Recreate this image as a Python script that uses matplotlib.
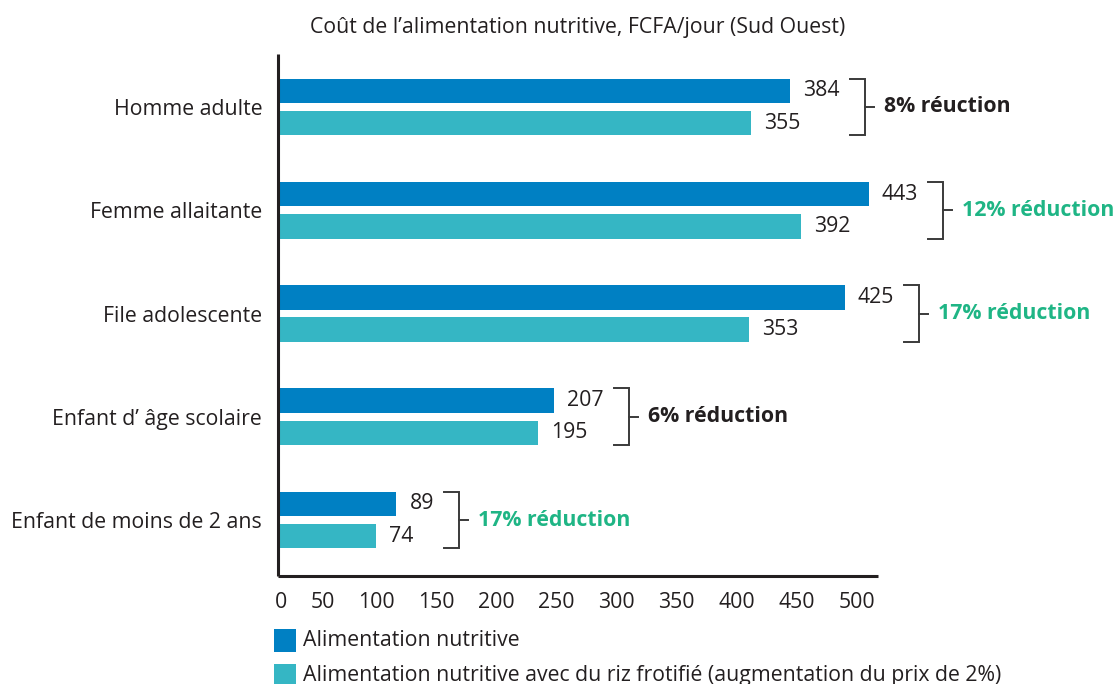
import matplotlib
matplotlib.use("Agg")
import matplotlib.pyplot as plt
import numpy as np
from matplotlib.patches import Rectangle

# ---- data -------------------------------------------------------------
categories = [
    "Homme adulte",
    "Femme allaitante",
    "File adolescente",
    "Enfant d\u2019 \u00e2ge scolaire",
    "Enfant de moins de 2 ans",
]
cost_standard = [384, 443, 425, 207, 89]
cost_fortified = [355, 392, 353, 195, 74]
reduction_labels = [
    "8% r\u00e9uction",
    "12% r\u00e9duction",
    "17% r\u00e9duction",
    "6% r\u00e9duction",
    "17% r\u00e9duction",
]
reduction_highlight = [False, True, True, False, True]
tick_labels = ["0", "50", "100", "150", "200", "250", "300", "350", "400", "450", "500"]
series_labels = [
    "Alimentation nutritive",
    "Alimentation nutritive avec du riz frotifi\u00e9 (augmentation du prix de 2%)",
]
title = "Co\u00fbt de l\u2019alimentation nutritive, FCFA/jour (Sud Ouest)"

# ---- style ------------------------------------------------------------
BLUE = "#0080C3"
TEAL = "#35B6C4"
GREEN = "#1FB585"
DARK = "#231F20"
BRACKET = "#3A3A3A"
FS = 15.3

plt.rcParams["font.family"] = ["Open Sans", "DejaVu Sans"]
plt.rcParams["text.color"] = DARK

W, H, DPI = 1116, 684, 100
fig = plt.figure(figsize=(W / DPI, H / DPI), dpi=DPI)
ax = fig.add_axes([277.5 / W, 1 - 576 / H, (878 - 277.5) / W, (576 - 54) / H])

y = np.arange(len(categories))
bar_h = 0.237
off = 0.157
ax.barh(y - off, cost_standard, height=bar_h, color=BLUE, zorder=2)
ax.barh(y + off, cost_fortified, height=bar_h, color=TEAL, zorder=2)

ax.set_xlim(0, 450)
ax.set_ylim(4.542, -0.513)

for s in ("top", "right"):
    ax.spines[s].set_visible(False)
for s in ("left", "bottom"):
    ax.spines[s].set_color(DARK)
    ax.spines[s].set_linewidth(2.2)
    ax.spines[s].set_capstyle("butt")

ax.set_yticks(y)
ax.set_yticklabels(categories, fontsize=FS, color=DARK)
ax.tick_params(axis="y", length=0, pad=11)
ax.set_xticks([])

# value labels
value_texts = []
for yi, a, b in zip(y, cost_standard, cost_fortified):
    ta = ax.annotate(f"{a}", xy=(a, yi - off), xytext=(9.5, 0), textcoords="offset points",
                     ha="left", va="center", fontsize=FS, color=DARK)
    tb = ax.annotate(f"{b}", xy=(b, yi + off), xytext=(9.5, 0), textcoords="offset points",
                     ha="left", va="center", fontsize=FS, color=DARK)
    value_texts.append((ta, tb))

fig.text((277.5 + 878) / 2 / W, 1 - 27 / H, title, ha="center", va="center",
         fontsize=FS, color=DARK)

fig.canvas.draw()
renderer = fig.canvas.get_renderer()
inv = ax.transData.inverted()
px2fig = fig.transFigure.inverted()

# x-axis labels: a row of evenly gapped labels starting at the origin
row_y_px = H - 602
x_px = ax.transData.transform((0, 0))[0] - 3
for lab in tick_labels:
    t = fig.text(*px2fig.transform((x_px, row_y_px)), lab, ha="left", va="center",
                 fontsize=FS, color=DARK)
    x_px = t.get_window_extent(renderer).x1 + 23.5

# brackets with reduction labels
for yi, (ta, tb), lab, hl in zip(y, value_texts, reduction_labels, reduction_highlight):
    right_px = max(ta.get_window_extent(renderer).x1, tb.get_window_extent(renderer).x1)
    y_mid_px = ax.transData.transform((0, yi))[1]
    x_left = inv.transform((right_px + 10, y_mid_px))[0]
    x_vert = inv.transform((right_px + 25, y_mid_px))[0]
    x_tick = inv.transform((right_px + 34, y_mid_px))[0]
    x_text = inv.transform((right_px + 44, y_mid_px))[0]
    top = yi - off - bar_h / 2
    bot = yi + off + bar_h / 2
    ax.plot([x_left, x_vert, x_vert, x_left], [top, top, bot, bot],
            color=BRACKET, lw=1.4, clip_on=False, solid_joinstyle="miter")
    ax.plot([x_vert, x_tick], [yi, yi], color=BRACKET, lw=1.4, clip_on=False)
    ax.text(x_text, yi, lab, ha="left", va="center", fontsize=FS, fontweight="bold",
            color=GREEN if hl else DARK, clip_on=False)

# legend: colour keys with their labels, one row per series
key_w, key_h, row_step = 22, 23, 35
key_x, key_top = 274, 629
for i, (lab, col) in enumerate(zip(series_labels, [BLUE, TEAL])):
    top_px = key_top + i * row_step
    x0, y0 = px2fig.transform((key_x, H - top_px - key_h))
    x1, y1 = px2fig.transform((key_x + key_w, H - top_px))
    fig.patches.append(Rectangle((x0, y0), x1 - x0, y1 - y0, transform=fig.transFigure,
                                 facecolor=col, edgecolor="none"))
    fig.text(*px2fig.transform((key_x + key_w + 7, H - top_px - 11)), lab,
             ha="left", va="center", fontsize=FS, color=DARK)

fig.savefig("out.png", dpi=DPI)
